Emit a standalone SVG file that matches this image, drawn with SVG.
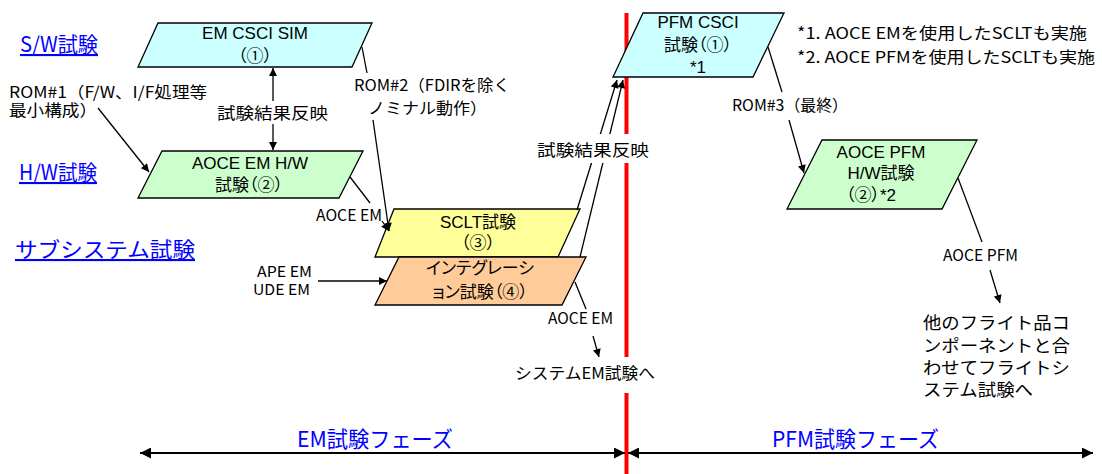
<svg xmlns="http://www.w3.org/2000/svg" width="1102" height="474" viewBox="0 0 1102 474">
<style>
.node{stroke:#000;stroke-width:1.3}
.cyan{fill:#CCFFFF}.green{fill:#CCFFCC}.yellow{fill:#FFFF99}.peach{fill:#FFCC99}
.nt{font-family:"Liberation Sans","Noto Sans CJK JP",sans-serif;font-size:17px;fill:#000;text-anchor:middle;font-feature-settings:"palt"}
.lb{font-family:"Noto Sans CJK JP",sans-serif;font-size:16px;fill:#000}
.hd{font-family:"Noto Sans CJK JP",sans-serif;font-size:21px;fill:#0000FF;text-decoration:underline}
.ph{font-family:"Noto Sans CJK JP",sans-serif;font-size:22px;fill:#0000FF}
.cn{stroke:#000;stroke-width:1.3;fill:none}
.pa{stroke:#000;stroke-width:2;fill:none}
</style>
<defs>
<marker id="ah" viewBox="0 0 10 10" refX="10" refY="5" markerWidth="10" markerHeight="8" markerUnits="userSpaceOnUse" orient="auto"><path d="M0,0 L10,5 L0,10 z" fill="#000"/></marker>
<marker id="ahb" viewBox="0 0 10 10" refX="10" refY="5" markerWidth="12" markerHeight="11" markerUnits="userSpaceOnUse" orient="auto-start-reverse"><path d="M0,0 L10,5 L0,10 z" fill="#000"/></marker>
</defs>
<rect x="0" y="0" width="1102" height="474" fill="#fff"/>

<g id="phase-divider">
<line x1="626.5" y1="13" x2="626.5" y2="474" stroke="#FF0000" stroke-width="4"/>
</g>

<g id="headings">
<text class="hd" x="20" y="52" textLength="78" lengthAdjust="spacingAndGlyphs">S/W試験</text>
<text class="hd" x="19" y="180" textLength="78" lengthAdjust="spacingAndGlyphs">H/W試験</text>
<text class="hd" x="15" y="257" textLength="180" lengthAdjust="spacingAndGlyphs">サブシステム試験</text>
</g>

<g id="node-em-csci-sim">
<polygon class="node cyan" points="158,23 372,23 352,67 138,67"/>
<text class="nt"><tspan x="255" y="39">EM CSCI SIM</tspan><tspan x="255" y="62">（①）</tspan></text>
</g>
<g id="node-aoce-em-hw">
<polygon class="node green" points="162,151 363,151 339,198 138,198"/>
<text class="nt"><tspan x="250" y="169">AOCE EM H/W</tspan><tspan x="249" y="191">試験（②）</tspan></text>
</g>
<g id="node-sclt">
<polygon class="node yellow" points="394,209 580,209 558,257 375,257"/>
<text class="nt"><tspan x="478" y="228">SCLT試験</tspan><tspan x="478" y="249">（③）</tspan></text>
</g>
<g id="node-integration">
<polygon class="node peach" points="399,257 586,257 562,305 375,305"/>
<text class="nt"><tspan x="480" y="274">インテグレーシ</tspan><tspan x="480" y="298">ョン試験（④）</tspan></text>
</g>
<g id="node-pfm-csci">
<polygon class="node cyan" points="643,13 784,13 753,77 613,77"/>
<text class="nt"><tspan x="698" y="28">PFM CSCI</tspan><tspan x="698" y="51">試験（①）</tspan><tspan x="698" y="73">*1</tspan></text>
</g>
<g id="node-aoce-pfm-hw">
<polygon class="node green" points="822,140 977,140 942,209 787,209"/>
<text class="nt"><tspan x="881" y="158">AOCE PFM</tspan><tspan x="881" y="179">H/W試験</tspan><tspan x="871" y="201">（②）*2</tspan></text>
</g>

<g id="connectors">
<line class="cn" x1="273" y1="101" x2="273" y2="68" marker-end="url(#ah)"/>
<line class="cn" x1="273" y1="124" x2="273" y2="150" marker-end="url(#ah)"/>
<line class="cn" x1="98" y1="108" x2="149" y2="172" marker-end="url(#ah)"/>
<line class="cn" x1="362" y1="47" x2="367" y2="73"/>
<line class="cn" x1="373" y1="120" x2="389" y2="231" marker-end="url(#ah)"/>
<line class="cn" x1="350" y1="177" x2="370" y2="203"/>
<line class="cn" x1="382" y1="221" x2="389" y2="231" marker-end="url(#ah)"/>
<line class="cn" x1="318" y1="281" x2="387" y2="281" marker-end="url(#ah)"/>
<line class="cn" x1="577" y1="210" x2="617" y2="80" marker-end="url(#ah)"/>
<line class="cn" x1="580" y1="257" x2="623" y2="80" marker-end="url(#ah)"/>
<line class="cn" x1="575" y1="282" x2="586" y2="309"/>
<line class="cn" x1="593" y1="336" x2="599" y2="357" marker-end="url(#ah)"/>
<line class="cn" x1="768" y1="47" x2="782" y2="92"/>
<line class="cn" x1="789" y1="120" x2="804" y2="173" marker-end="url(#ah)"/>
<line class="cn" x1="958" y1="178" x2="982" y2="242"/>
<line class="cn" x1="990" y1="270" x2="1000" y2="303" marker-end="url(#ah)"/>
<line class="pa" x1="140" y1="453" x2="625" y2="453" marker-start="url(#ahb)" marker-end="url(#ahb)"/>
<line class="pa" x1="628" y1="453" x2="1093" y2="453" marker-start="url(#ahb)" marker-end="url(#ahb)"/>
</g>

<g id="labels">
<text class="lb"><tspan x="9" y="98" textLength="198" lengthAdjust="spacingAndGlyphs">ROM#1（F/W、I/F処理等</tspan><tspan x="9" y="116" textLength="88" lengthAdjust="spacingAndGlyphs">最小構成）</tspan></text>
<text class="lb" x="217" y="119" textLength="111" lengthAdjust="spacingAndGlyphs">試験結果反映</text>
<text class="lb"><tspan x="354" y="91" textLength="156" lengthAdjust="spacingAndGlyphs">ROM#2（FDIRを除く</tspan><tspan x="368" y="114" textLength="119" lengthAdjust="spacingAndGlyphs">ノミナル動作）</tspan></text>
<text class="lb" x="316" y="221" textLength="66" lengthAdjust="spacingAndGlyphs">AOCE EM</text>
<text class="lb" style="font-size:15px"><tspan x="257" y="277" textLength="55" lengthAdjust="spacingAndGlyphs">APE EM</tspan><tspan x="253" y="295" textLength="57" lengthAdjust="spacingAndGlyphs">UDE EM</tspan></text>
<rect x="534" y="134" width="118" height="29" fill="#fff"/>
<text class="lb" x="537" y="156" textLength="112" lengthAdjust="spacingAndGlyphs">試験結果反映</text>
<text class="lb" x="548" y="324" textLength="65" lengthAdjust="spacingAndGlyphs">AOCE EM</text>
<rect x="512" y="357" width="156" height="36" fill="#fff"/>
<text class="lb" x="515" y="379" textLength="140" lengthAdjust="spacingAndGlyphs">システムEM試験へ</text>
<text class="lb" x="732" y="111" textLength="116" lengthAdjust="spacingAndGlyphs">ROM#3（最終）</text>
<text class="lb"><tspan x="797" y="39" textLength="290" lengthAdjust="spacingAndGlyphs">*1. AOCE EMを使用したSCLTも実施</tspan><tspan x="797" y="63" textLength="298" lengthAdjust="spacingAndGlyphs">*2. AOCE PFMを使用したSCLTも実施</tspan></text>
<text class="lb" x="943" y="261" textLength="75" lengthAdjust="spacingAndGlyphs">AOCE PFM</text>
<text class="lb" style="font-size:17px"><tspan x="923" y="329" textLength="147" lengthAdjust="spacingAndGlyphs">他のフライト品コ</tspan><tspan x="923" y="352" textLength="147" lengthAdjust="spacingAndGlyphs">ンポーネントと合</tspan><tspan x="923" y="374" textLength="147" lengthAdjust="spacingAndGlyphs">わせてフライトシ</tspan><tspan x="923" y="396" textLength="110" lengthAdjust="spacingAndGlyphs">ステム試験へ</tspan></text>
<text class="ph" x="297" y="447" textLength="156" lengthAdjust="spacingAndGlyphs">EM試験フェーズ</text>
<text class="ph" x="772" y="447" textLength="167" lengthAdjust="spacingAndGlyphs">PFM試験フェーズ</text>
</g>
</svg>
